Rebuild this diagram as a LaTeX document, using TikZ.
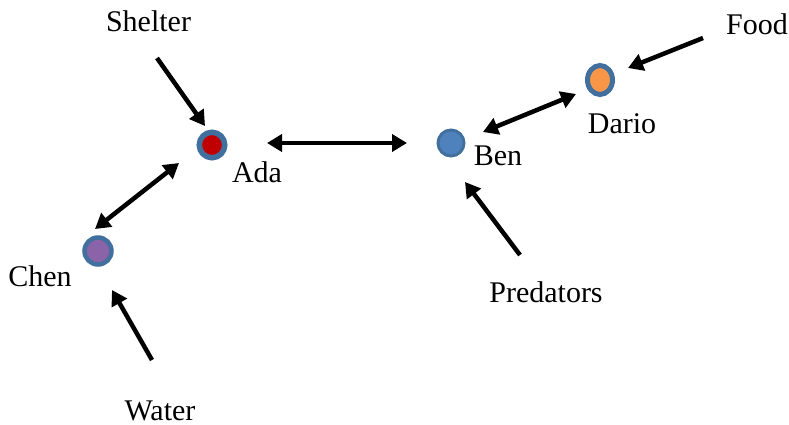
\documentclass[tikz,border=0pt]{standalone}
\usepackage{fontspec}
\setmainfont{Liberation Serif}
\usetikzlibrary{arrows.meta,shapes.geometric}
\definecolor{ringblue}{HTML}{41709F}
\definecolor{benblue}{HTML}{4F81BD}
\definecolor{adared}{HTML}{C00000}
\definecolor{darioorange}{HTML}{F79646}
\definecolor{chenpurple}{HTML}{8A63A8}
\tikzset{
  lbl/.style={anchor=base, inner sep=0pt, font=\fontsize{30}{34}\selectfont},
  dot/.style={circle, draw=ringblue, inner sep=0pt},
  conn/.style={line width=4.5pt, -{Triangle[length=15pt,width=17pt]}},
  biconn/.style={line width=4.5pt, {Triangle[length=15pt,width=17pt]}-{Triangle[length=15pt,width=17pt]}}
}
\begin{document}
\begin{tikzpicture}[x=1pt,y=-1pt]
\useasboundingbox (0,0) rectangle (789,425);
% nodes
\node[dot, line width=5.5pt, fill=adared, minimum size=25.5pt] (ada) at (212,145) {};
\node[dot, line width=3pt, fill=benblue, minimum size=26pt] (ben) at (451,143) {};
\node[ellipse, draw=ringblue, inner sep=0pt, line width=5pt, fill=darioorange, minimum width=25pt, minimum height=29pt] (dario) at (600,80) {};
\node[dot, line width=4.5pt, fill=chenpurple, minimum size=27pt] (chen) at (98,251) {};
% labels
\node[lbl] (shelter) at (148.5,32) {Shelter};
\node[lbl] (adal) at (257,182) {Ada};
\node[lbl] (benl) at (498,165) {Ben};
\node[lbl] (dariol) at (622,133) {Dario};
\node[lbl] (food) at (757,35) {Food};
\node[lbl] (chenl) at (40,286) {Chen};
\node[lbl] (pred) at (546,302) {Predators};
\node[lbl] (water) at (160,420) {Water};
% connector ends
\coordinate (sh1) at (157,58);
\coordinate (sh2) at (205,126);
\coordinate (ab1) at (267,143);
\coordinate (ab2) at (407,143);
\coordinate (bd1) at (483,132);
\coordinate (bd2) at (576,94);
\coordinate (fd1) at (703,38);
\coordinate (fd2) at (628,68);
\coordinate (pr1) at (520,255);
\coordinate (pr2) at (465,182);
\coordinate (ca1) at (95,229);
\coordinate (ca2) at (179,163);
\coordinate (wt1) at (152,360);
\coordinate (wt2) at (112,290);
% connectors
\draw[conn] (sh1) -- (sh2);
\draw[biconn] (ab1) -- (ab2);
\draw[biconn] (bd1) -- (bd2);
\draw[conn] (fd1) -- (fd2);
\draw[conn] (pr1) -- (pr2);
\draw[biconn] (ca1) -- (ca2);
\draw[conn] (wt1) -- (wt2);
\end{tikzpicture}
\end{document}
